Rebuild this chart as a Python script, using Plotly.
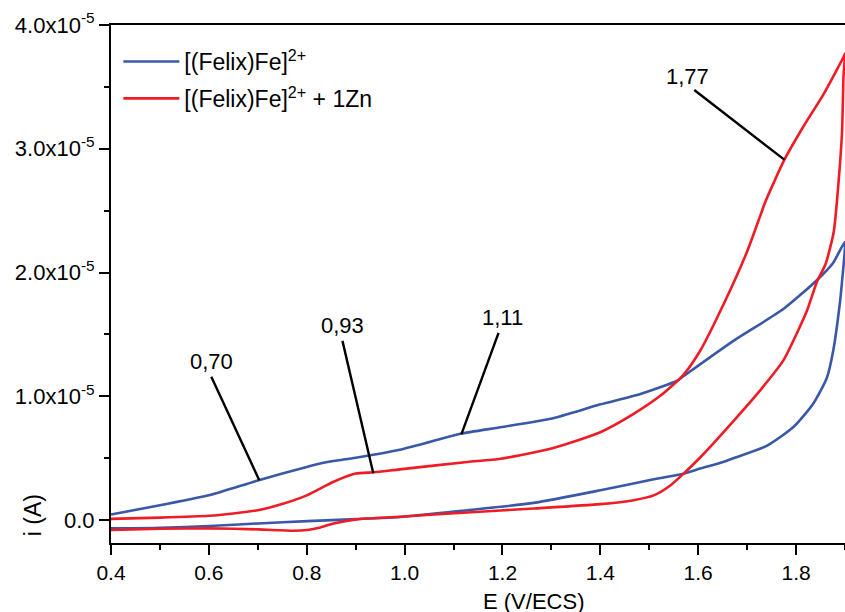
import numpy as np
import plotly.graph_objects as go

# ---------------- data (current in units of 1e-5 A) ----------------
blue_x = [0.40, 0.50, 0.60, 0.70, 0.80, 0.83, 0.86, 0.90, 0.99, 1.05, 1.114, 1.196, 1.298,
          1.40, 1.482, 1.557, 1.569, 1.672, 1.774, 1.843, 1.876, 1.90,
          1.899, 1.894, 1.89, 1.876, 1.863, 1.835, 1.794, 1.74, 1.672, 1.651, 1.604, 1.57,
          1.509, 1.40, 1.264, 1.128, 0.991, 0.901, 0.801, 0.701, 0.601, 0.501, 0.40]
blue_y = [0.045, 0.12, 0.20, 0.32, 0.43, 0.46, 0.48, 0.504, 0.569, 0.63, 0.697, 0.75, 0.818,
          0.935, 1.019, 1.126, 1.16, 1.448, 1.705, 1.94, 2.08, 2.25,
          2.15, 1.93, 1.77, 1.37, 1.15, 0.94, 0.75, 0.60, 0.50, 0.47, 0.416, 0.375,
          0.33, 0.241, 0.139, 0.08, 0.025, 0.008, -0.008, -0.027, -0.048, -0.062, -0.067]

red_x = [0.40, 0.50, 0.60, 0.65, 0.70, 0.753, 0.80, 0.855, 0.90, 0.937, 0.99, 1.128, 1.196,
         1.298, 1.40, 1.468, 1.523, 1.569, 1.604, 1.655, 1.70, 1.727, 1.737, 1.776, 1.815,
         1.856, 1.897, 1.90,
         1.897, 1.894, 1.887, 1.877, 1.86, 1.843, 1.822, 1.774, 1.727, 1.672, 1.605, 1.57,
         1.543, 1.509, 1.468, 1.40, 1.264, 1.128, 0.991, 0.901, 0.855, 0.828, 0.801, 0.773,
         0.701, 0.601, 0.501, 0.40]
red_y = [0.01, 0.02, 0.035, 0.054, 0.08, 0.134, 0.20, 0.31, 0.376, 0.386, 0.41, 0.469, 0.496,
         0.577, 0.71, 0.858, 1.006, 1.17, 1.368, 1.77, 2.17, 2.46, 2.57, 2.91, 3.18,
         3.44, 3.741, 3.77,
         3.59, 3.14, 2.74, 2.33, 2.065, 1.93, 1.69, 1.29, 1.05, 0.80, 0.51, 0.375,
         0.28, 0.20, 0.161, 0.129, 0.094, 0.062, 0.027, 0.006, -0.027, -0.059, -0.08, -0.086,
         -0.075, -0.067, -0.07, -0.08]

series_names = ["[(Felix)Fe]<sup>2+</sup>", "[(Felix)Fe]<sup>2+</sup> + 1Zn"]
series_colors = ["#3a58a8", "#ee1c25"]

x_tick_vals = [0.4, 0.6, 0.8, 1.0, 1.2, 1.4, 1.6, 1.8]
y_tick_vals = [0.0, 1.0, 2.0, 3.0, 4.0]
y_tick_text = ["0.0", "1.0x10<sup>-5</sup>", "2.0x10<sup>-5</sup>",
               "3.0x10<sup>-5</sup>", "4.0x10<sup>-5</sup>"]

# peak labels and their leader lines (data coordinates)
peak_labels = ["0,70", "0,93", "1,11", "1,77"]
label_pos_x = [0.605, 0.873, 1.200, 1.578]
label_pos_y = [1.279, 1.569, 1.633, 3.580]
leader_x0 = [0.605, 0.873, 1.192, 1.592]
leader_y0 = [1.158, 1.448, 1.512, 3.475]
leader_x1 = [0.703, 0.936, 1.116, 1.776]
leader_y1 = [0.322, 0.378, 0.692, 2.912]

SCALE = 1e-5
FONT = "Liberation Sans, Arial, sans-serif"

fig = go.Figure()
for k, (xs, ys, name, col) in enumerate([(blue_x, blue_y, series_names[0], series_colors[0]),
                                         (red_x, red_y, series_names[1], series_colors[1])]):
    fig.add_trace(go.Scatter(
        x=xs, y=np.array(ys) * SCALE, mode="lines", name=name, legendgroup=f"g{k}",
        line=dict(color=col, width=2.6, shape="spline", smoothing=0.6),
    ))

for i, t in enumerate(peak_labels):
    fig.add_shape(type="line", xref="x", yref="y",
                  x0=leader_x0[i], y0=leader_y0[i] * SCALE,
                  x1=leader_x1[i], y1=leader_y1[i] * SCALE,
                  line=dict(color="black", width=2.4))
    fig.add_annotation(x=label_pos_x[i], y=label_pos_y[i] * SCALE, xref="x", yref="y",
                       text=t, showarrow=False, font=dict(size=22, color="black", family=FONT))

# axis titles
fig.add_annotation(xref="paper", yref="paper", x=0.576, y=-0.112, text="E (V/ECS)",
                   showarrow=False, font=dict(size=22, color="black", family=FONT),
                   xanchor="center", yanchor="middle")
fig.add_annotation(xref="paper", yref="paper", x=-0.106, y=0.054, text="i (A)",
                   textangle=-90, showarrow=False,
                   font=dict(size=23, color="black", family=FONT),
                   xanchor="center", yanchor="middle")

fig.update_layout(
    width=845, height=612,
    margin=dict(l=111, r=0, t=25, b=69),
    paper_bgcolor="white", plot_bgcolor="white",
    font=dict(family=FONT, color="black"),
    showlegend=True,
    legend=dict(x=0.01, y=0.971, xanchor="left", yanchor="top", itemwidth=56,
                tracegroupgap=4, traceorder="grouped",
                bgcolor="rgba(0,0,0,0)", font=dict(size=23, family=FONT)),
    xaxis=dict(range=[0.4, 1.9], showgrid=False, zeroline=False,
               showline=True, linecolor="black", linewidth=2, mirror=True,
               ticks="outside", ticklen=10, tickwidth=2, tickcolor="black",
               tickvals=x_tick_vals, ticktext=[f"{v:.1f}" for v in x_tick_vals],
               tickfont=dict(size=21, family=FONT),
               minor=dict(ticks="outside", ticklen=5, tickwidth=2, tickcolor="black",
                          dtick=0.1, tick0=0.4, showgrid=False)),
    yaxis=dict(range=[-0.185 * SCALE, 4.0 * SCALE], showgrid=False, zeroline=False,
               showline=True, linecolor="black", linewidth=2, mirror=False,
               ticks="outside", ticklen=10, tickwidth=2, tickcolor="black",
               tickvals=[v * SCALE for v in y_tick_vals], ticktext=y_tick_text,
               tickfont=dict(size=22, family=FONT),
               minor=dict(ticks="outside", ticklen=5, tickwidth=2, tickcolor="black",
                          dtick=0.5 * SCALE, tick0=0, showgrid=False)),
)

fig.write_html("out.html",
               config={"displayModeBar": False},
               post_script="document.body.style.margin='0px';"
                           "document.body.style.overflow='hidden';")
